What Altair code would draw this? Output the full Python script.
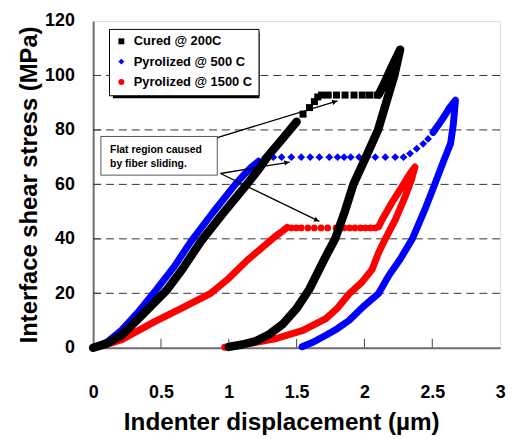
import math
import altair as alt
import pandas as pd

# ---------------- data ----------------
SERIES = ["Cured @ 200C", "Pyrolized @ 500 C", "Pyrolized @ 1500 C"]
COLORS = ["#000000", "#0000ff", "#ff0000"]
SHAPES = ["square", "diamond", "circle"]
LINE_W = [8.5, 7, 7]
MARK_SIZE = [50, 62, 46]

# Cured @ 200C
CURED_LOAD_X = [0, 0.1, 0.21, 0.35, 0.54, 0.66, 0.793, 0.96, 1.133, 1.22, 1.303, 1.40, 1.50]
CURED_LOAD_Y = [0, 1.5, 4.6, 11.5, 21, 29, 39, 49.5, 60, 65.5, 71.3, 77, 83]
CURED_FLAT_X = [1.547, 1.595, 1.631, 1.656, 1.684, 1.733, 1.794, 1.857, 1.923, 1.984, 2.037, 2.093]
CURED_FLAT_Y = [85.8, 88.2, 90.4, 92.1, 92.8, 92.8, 92.8, 92.8, 92.8, 92.8, 92.8, 92.8]
CURED_UNLOAD_X = [2.105, 2.15, 2.20, 2.263, 2.22, 2.16, 2.10, 2.01, 1.918, 1.855, 1.784, 1.704, 1.595,
                  1.498, 1.40, 1.30, 1.20, 1.10, 1.00]
CURED_UNLOAD_Y = [93, 97.5, 103, 109.5, 100, 90, 80, 70, 60, 50, 40, 32.5, 21.6,
                  14.3, 8.8, 5, 2.5, 1.2, 0.3]

# Pyrolized @ 500 C
P500_LOAD_X = [0, 0.1, 0.21, 0.33, 0.46, 0.60, 0.72, 0.88, 1.048, 1.12, 1.17, 1.22]
P500_LOAD_Y = [0, 2, 6.5, 13, 21, 30, 39, 49.5, 60, 64, 66.5, 68.5]
P500_FLAT_X = [1.267, 1.328, 1.389, 1.461, 1.534, 1.60, 1.668, 1.741, 1.802, 1.85, 1.899, 1.96,
               2.02, 2.08, 2.154, 2.227, 2.288, 2.336, 2.385, 2.433, 2.469]
P500_FLAT_Y = [70, 70, 70, 70, 70, 70, 70, 70, 70, 70, 70, 70,
               70, 70, 70, 70, 70, 71.3, 73.1, 74.9, 76.7]
P500_UNLOAD_X = [2.506, 2.542, 2.591, 2.628, 2.671, 2.655, 2.635, 2.585, 2.518, 2.445, 2.353,
                 2.263, 2.178, 2.105, 2.0, 1.886, 1.80, 1.716, 1.62, 1.54]
P500_UNLOAD_Y = [79.1, 81.6, 85.2, 88.2, 90.9, 82, 75, 68.8, 60, 50.7, 40,
                 32.5, 26.4, 20, 15.5, 10, 7, 4.6, 2, 0.4]

# Pyrolized @ 1500 C
P1500_LOAD_X = [0, 0.1, 0.21, 0.45, 0.65, 0.866, 1.0, 1.133, 1.25, 1.345, 1.40, 1.43]
P1500_LOAD_Y = [0, 1.2, 3, 9.5, 14.5, 20, 25.5, 32, 37, 41, 43, 44.2]
P1500_FLAT_X = [1.461, 1.498, 1.534, 1.583, 1.631, 1.68, 1.729, 1.79, 1.85, 1.891, 1.93, 1.971,
                2.008, 2.044, 2.08]
P1500_FLAT_Y = [44] * 15
P1500_UNLOAD_X = [2.105, 2.13, 2.20, 2.276, 2.336, 2.372, 2.345, 2.30, 2.227, 2.154, 2.105, 2.057,
                  1.98, 1.891, 1.80, 1.716, 1.547, 1.35, 1.15, 0.97]
P1500_UNLOAD_Y = [44.5, 47, 53.1, 59.1, 64, 66.4, 61.5, 55.5, 47, 40, 35, 28.8,
                  24, 20, 14.5, 10.7, 6.4, 3.4, 1.5, 0.2]

# axes
XTICKS = [0, 0.5, 1, 1.5, 2, 2.5, 3]
YTICKS = [0, 20, 40, 60, 80, 100, 120]
GRID_Y = [20, 40, 60, 80, 100]
INNER_XTICKS = [0.5, 1, 1.5, 2, 2.5]
INNER_YTICKS = [20, 40, 60, 80, 100]
XDOM = [0, 3]
YDOM = [0, 120]
XTITLE = "Indenter displacement (\u00b5m)"
YTITLE = "Interface shear stress (MPa)"

# annotation
NOTE_LINES = ["Flat   region   caused", "by fiber sliding."]
NOTE_TEXT_X = [0.125, 0.125]
NOTE_TEXT_Y = [72.5, 67.6]
NOTE_BOX_X = [0.057, 0.915]
NOTE_BOX_Y = [63.4, 77.6]
ARROW_X0 = [0.915, 0.939, 0.939]
ARROW_Y0 = [77.2, 64.0, 64.0]
ARROW_X1 = [1.802, 1.449, 1.668]
ARROW_Y1 = [90.7, 68.2, 46.4]

# ---------------- layout ----------------
W, H = 411, 330
FONT = "Liberation Sans, Arial, sans-serif"

rows = []
def add(series, part, kind, xs, ys):
    for x, y in zip(xs, ys):
        rows.append(dict(series=series, part=part, kind=kind, x=x, y=y, i=len(rows)))

add(SERIES[0], "c_load", "line", CURED_LOAD_X, CURED_LOAD_Y)
add(SERIES[0], "c_flat", "mark", CURED_FLAT_X, CURED_FLAT_Y)
add(SERIES[0], "c_unload", "line", CURED_UNLOAD_X, CURED_UNLOAD_Y)
add(SERIES[1], "b_load", "line", P500_LOAD_X, P500_LOAD_Y)
add(SERIES[1], "b_flat", "mark", P500_FLAT_X, P500_FLAT_Y)
add(SERIES[1], "b_unload", "line", P500_UNLOAD_X, P500_UNLOAD_Y)
add(SERIES[2], "r_load", "line", P1500_LOAD_X, P1500_LOAD_Y)
add(SERIES[2], "r_flat", "mark", P1500_FLAT_X, P1500_FLAT_Y)
add(SERIES[2], "r_unload", "line", P1500_UNLOAD_X, P1500_UNLOAD_Y)
df = pd.DataFrame(rows)

xscale = alt.Scale(domain=XDOM, nice=False, zero=False)
yscale = alt.Scale(domain=YDOM, nice=False, zero=False)
xaxis = alt.Axis(values=XTICKS, format="~g", ticks=False, grid=False, domainColor="#6e6e6e",
                 domainWidth=2, labelFont=FONT, labelFontSize=18, labelFontWeight="bold",
                 labelColor="black", labelPadding=36, labelFlush=False, labelOverlap=False,
                 titleFont=FONT, titleFontSize=24.5, titleFontWeight="bold", titleColor="black",
                 titlePadding=10, titleX=190, titleAlign="center")
yaxis = alt.Axis(values=YTICKS, ticks=False, grid=False, domainColor="#6e6e6e", domainWidth=2,
                 labelFont=FONT, labelFontSize=18, labelFontWeight="bold", labelColor="black",
                 labelPadding=19, labelOverlap=False, titleFont=FONT, titleFontSize=24,
                 titleFontWeight="bold", titleColor="black", titlePadding=3)

def X(field):
    return alt.X(field, type="quantitative", scale=xscale, axis=xaxis, title=XTITLE)

def Y(field):
    return alt.Y(field, type="quantitative", scale=yscale, axis=yaxis, title=YTITLE)

legend = alt.Legend(title=None, orient="none", legendX=16, legendY=8, fillColor="white",
                    strokeColor="black", padding=6, labelFont=FONT, labelFontSize=13,
                    labelFontWeight="bold", labelColor="black", symbolSize=36, rowPadding=6.5,
                    labelOffset=6, labelLimit=400, symbolStrokeWidth=0)
color_enc = alt.Color("series:N", scale=alt.Scale(domain=SERIES, range=COLORS), legend=legend)
shape_enc = alt.Shape("series:N", scale=alt.Scale(domain=SERIES, range=SHAPES), legend=legend)

layers = []

grid = alt.Chart(pd.DataFrame({"y": GRID_Y})).mark_rule(
    color="#333333", strokeWidth=1, strokeDash=[8, 5]).encode(y=Y("y"))
xt = alt.Chart(pd.DataFrame({"x": INNER_XTICKS})).mark_rule(color="#444444", strokeWidth=1).encode(
    x=X("x"), y=alt.value(H), y2=alt.value(H - 9))
yt = alt.Chart(pd.DataFrame({"y": INNER_YTICKS})).mark_rule(color="#444444", strokeWidth=1).encode(
    y=Y("y"), x=alt.value(0), x2=alt.value(8))
layers += [grid, xt, yt]

base = alt.Chart(df)
for k in [2, 1, 0]:
    s = SERIES[k]
    ln = base.transform_filter(
        (alt.datum.series == s) & (alt.datum.kind == "line")
    ).mark_line(color=COLORS[k], strokeWidth=LINE_W[k], strokeCap="round", strokeJoin="round").encode(
        x=X("x"), y=Y("y"), detail="part:N", order="i:Q")
    pt = base.transform_filter(
        (alt.datum.series == s) & (alt.datum.kind == "mark")
    ).mark_point(filled=True, opacity=1, size=MARK_SIZE[k], strokeWidth=0).encode(
        x=X("x"), y=Y("y"), color=color_enc, shape=shape_enc)
    layers += [ln, pt]

# legend shadow (decoration in pixel space)
shadow = alt.Chart(pd.DataFrame({"a": [0]})).mark_rect(color="black").encode(
    x=alt.value(20), x2=alt.value(168), y=alt.value(12), y2=alt.value(78))
layers.append(shadow)

# annotation box, text and arrows
box = alt.Chart(pd.DataFrame({"x": [NOTE_BOX_X[0]], "x2": [NOTE_BOX_X[1]],
                              "y": [NOTE_BOX_Y[0]], "y2": [NOTE_BOX_Y[1]]})).mark_rect(
    fill="white", stroke="#555555", strokeWidth=1).encode(
    x=X("x"), x2="x2", y=Y("y"), y2="y2")
txt = alt.Chart(pd.DataFrame({"x": NOTE_TEXT_X, "y": NOTE_TEXT_Y, "t": NOTE_LINES})).mark_text(
    align="left", baseline="middle", font=FONT, fontSize=10.5, fontWeight="bold", color="black").encode(
    x=X("x"), y=Y("y"), text="t:N")
arr = pd.DataFrame({"x0": ARROW_X0, "y0": ARROW_Y0, "x1": ARROW_X1, "y1": ARROW_Y1})
pxx = W / (XDOM[1] - XDOM[0])
pxy = H / (YDOM[1] - YDOM[0])
ang, hx, hy = [], [], []
for a, b, c, d in zip(ARROW_X0, ARROW_Y0, ARROW_X1, ARROW_Y1):
    dx = (c - a) * pxx
    dy = (d - b) * pxy
    L = math.hypot(dx, dy)
    ang.append(math.degrees(math.atan2(dx, dy)) % 360)
    hx.append(c - dx / L * 3 / pxx)
    hy.append(d - dy / L * 3 / pxy)
arr["ang"] = ang
arr["hx"] = hx
arr["hy"] = hy
lines = alt.Chart(arr).mark_rule(color="black", strokeWidth=1.3).encode(
    x=X("x0"), y=Y("y0"), x2="x1", y2="y1")
heads = alt.Chart(arr).mark_point(shape="triangle-up", filled=True, opacity=1, color="black",
                                  size=30).encode(
    x=X("hx"), y=Y("hy"), angle=alt.Angle("ang:Q", scale=None))
layers += [box, txt, lines, heads]

chart = alt.layer(*layers).resolve_scale(color="shared", shape="shared").properties(
    width=W, height=H,
    autosize=alt.AutoSizeParams(type="none"),
    padding={"left": 86, "top": 11, "right": 10, "bottom": 90},
).configure_view(stroke="#808080", strokeWidth=1).configure(background="white")

chart.save("out.html", embed_options={"renderer": "svg", "actions": False})
